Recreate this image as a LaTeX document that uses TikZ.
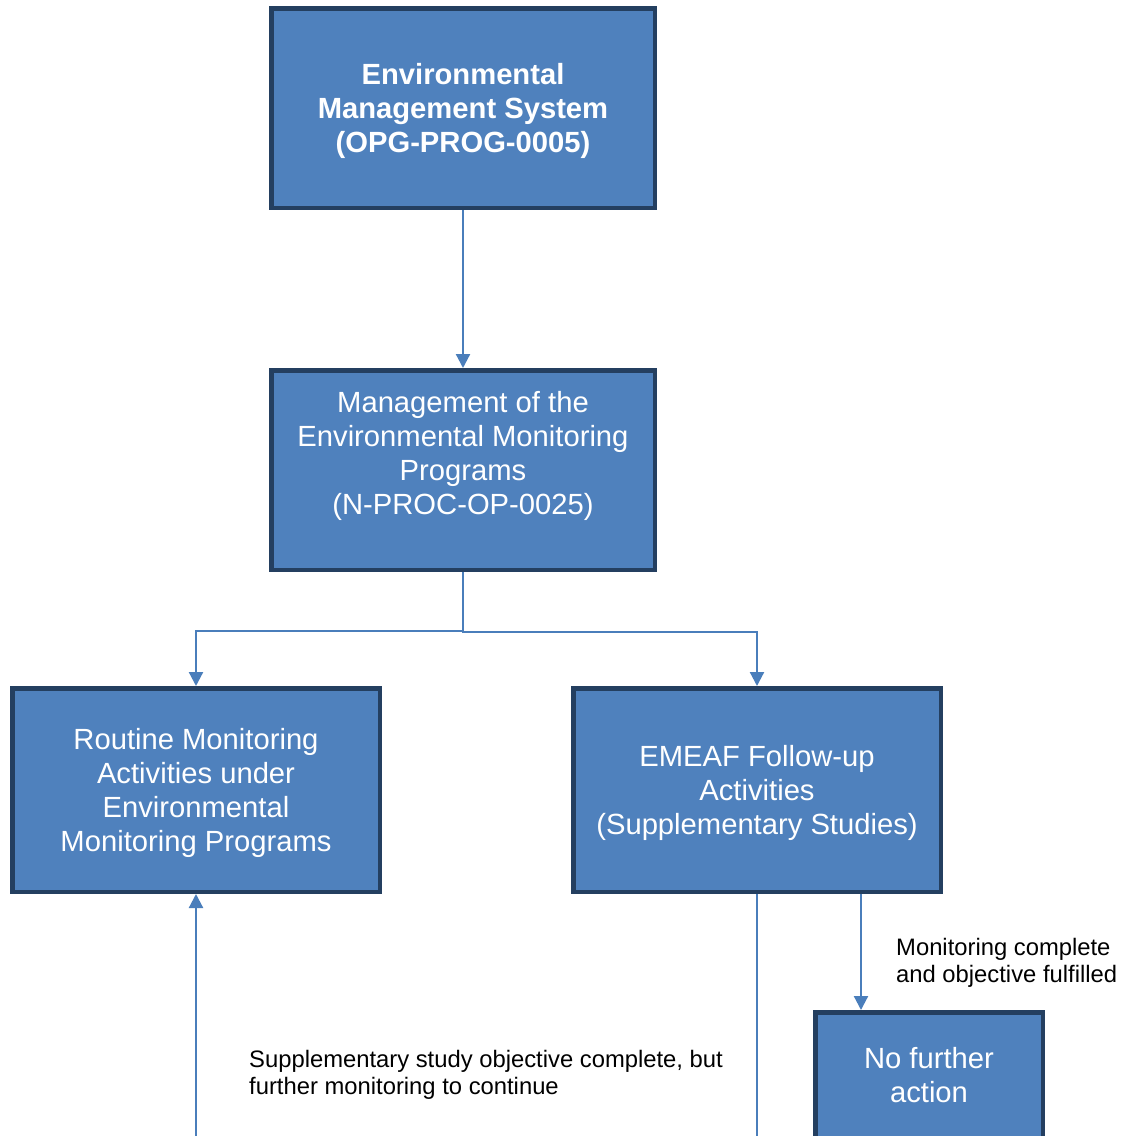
\documentclass[tikz,border=0pt]{standalone}
\usepackage{fontspec}
\setmainfont{Liberation Sans}
\usetikzlibrary{arrows.meta}

\definecolor{boxfill}{HTML}{4F81BD}
\definecolor{boxline}{HTML}{243F60}
\definecolor{linkline}{HTML}{4A7EBB}

\tikzset{
    procbox/.style={draw=boxline, fill=boxfill, line width=4.5pt, text=white,
        align=center, inner sep=0pt, text depth=0pt, font=\fontsize{29.2}{34}\selectfont},
    link/.style={draw=linkline, line width=2.2pt, -{Triangle[width=14pt,length=14pt]}},
    note/.style={align=left, inner sep=0pt, anchor=west, font=\fontsize{23.8}{27}\selectfont}
}

\begin{document}
\begin{tikzpicture}[x=1pt, y=-1pt]
    \useasboundingbox (0,0) rectangle (1123,1136);
    \clip (0,0) rectangle (1123,1136);

    % procedure boxes
    \node[procbox, minimum width=383.5pt, minimum height=199.5pt,
        font=\bfseries\fontsize{29.2}{34}\selectfont] (ems) at (463,108)
        {Environmental\\Management System\\(OPG-PROG-0005)};
    \node[procbox, minimum width=383.5pt, minimum height=199.5pt] (emp) at (463,470)
        {Management of the\\Environmental Monitoring\\Programs\\(N-PROC-OP-0025)\\\mbox{}};
    \node[procbox, minimum width=367.5pt, minimum height=203.5pt] (routine) at (196,790)
        {Routine Monitoring\\Activities under\\Environmental\\Monitoring Programs};
    \node[procbox, minimum width=367.5pt, minimum height=203.5pt] (emeaf) at (757,790)
        {EMEAF Follow-up\\Activities\\(Supplementary Studies)};
    \node[procbox, minimum width=227.5pt, minimum height=125.5pt] (nofurther) at (929,1075)
        {No further\\action};

    % connectors
    \draw[link] (ems.south) -- (emp.north);
    \draw[link] (emp.south) -- ++(0,59) -| (routine.north);
    \draw[link] (emp.south) -- ++(0,60) -| (emeaf.north);
    \draw[link] ([xshift=104pt]emeaf.south) -- ([xshift=104pt]emeaf.south |- nofurther.north);

    % lines running off the page
    \coordinate (emeafOut) at (757,1145);
    \coordinate (routineIn) at (196,1145);
    \draw[link, -] (emeaf.south) -- (emeafOut);
    \draw[link] (routineIn) -- (routine.south);

    % notes
    \node[note] (doneNote) at (896,963) {Monitoring complete\\and objective fulfilled};
    \node[note] (continueNote) at (249,1074.5)
        {Supplementary study objective complete, but\\further monitoring to continue};
\end{tikzpicture}
\end{document}
